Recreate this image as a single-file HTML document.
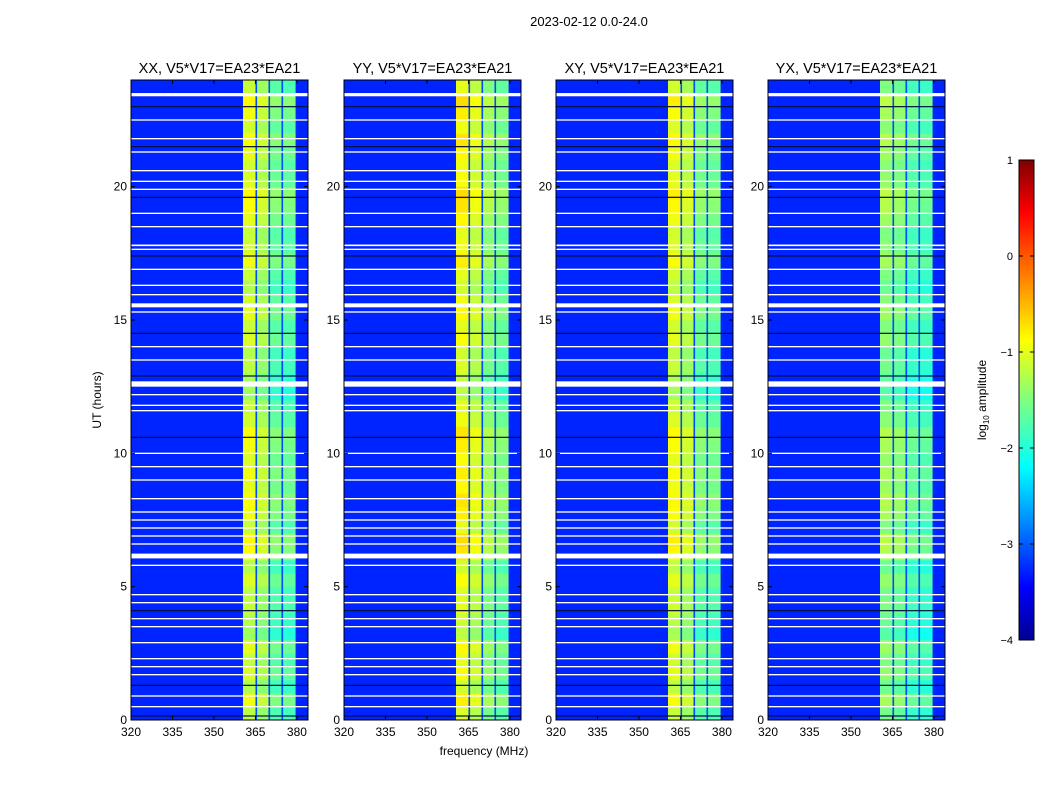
<!DOCTYPE html>
<html><head><meta charset="utf-8"><style>
body{margin:0;background:#fff;font-family:"Liberation Sans",sans-serif}
svg text{font-family:"Liberation Sans",sans-serif}
</style></head><body>
<svg id="fig" width="1050" height="800" xmlns="http://www.w3.org/2000/svg">
<text x="589" y="26" font-size="13" text-anchor="middle">2023-02-12 0.0-24.0</text>
<text x="484" y="755" font-size="12" text-anchor="middle">frequency (MHz)</text>
<text x="101" y="400" font-size="12" text-anchor="middle" transform="rotate(-90 101 400)">UT (hours)</text>
<defs><linearGradient id="jet" x1="0" y1="1" x2="0" y2="0">
<stop offset="0" stop-color="#00008f"/><stop offset="0.11" stop-color="#0000ff"/><stop offset="0.36" stop-color="#00ffff"/><stop offset="0.5" stop-color="#7fff7f"/><stop offset="0.625" stop-color="#ffff00"/><stop offset="0.89" stop-color="#ff0000"/><stop offset="1" stop-color="#7f0000"/></linearGradient></defs>
<rect x="1019" y="160" width="15" height="480" fill="url(#jet)" stroke="#000" stroke-width="1"/>
<text x="986" y="400" font-size="12" text-anchor="middle" transform="rotate(-90 986 400)">log<tspan font-size="8" dy="3">10</tspan><tspan dy="-3"> amplitude</tspan></text>
<g id="cbticks"></g>
<g id="panels"></g>
</svg>
<script>
const titles=["XX, V5*V17=EA23*EA21","YY, V5*V17=EA23*EA21","XY, V5*V17=EA23*EA21","YX, V5*V17=EA23*EA21"];
const freqTicks=[320,335,350,365,380];
const hourTicks=[0,5,10,15,20];
const cbTicks=[1,0,-1,-2,-3,-4];
const subbandEdges=[360.5,365.3,370,374.7,379.4];
const subbandLevels=[[-1.05,-1.25,-1.6,-1.65],[-0.9,-1.1,-1.4,-1.55],[-1.0,-1.2,-1.55,-1.6],[-1.4,-1.5,-1.7,-1.75]];
const backgroundLevel=-3.2;
const rowMod=[-0.15,0.1,-0.2,0.0,-0.1,0.05,-0.3,-0.2,-0.1,-0.15,0.0,-0.2,0.15,0.2,-0.1,0.1,0.15,0.05,0.1,0.0,0.1,0.15,-0.05,-0.1,-0.3,-0.25,-0.15,-0.2,0.0,-0.1,0.05,-0.05,-0.2,-0.1,0.1,-0.05,-0.1,0.05,0.15,0.2,0.0,-0.05,0.05,0.15,-0.05,0.1,0.2,-0.1];
const whiteGaps=[[23.45,0.12],[22.5,0.05],[21.8,0.05],[21.3,0.05],[20.6,0.05],[20.2,0.05],[19.9,0.05],[19.0,0.05],[18.5,0.05],[17.8,0.06],[17.65,0.05],[16.9,0.05],[16.3,0.05],[15.95,0.05],[15.55,0.15],[15.3,0.05],[14.0,0.05],[13.5,0.05],[12.6,0.2],[12.2,0.05],[11.8,0.05],[11.6,0.05],[10.0,0.05],[9.5,0.05],[9.0,0.05],[8.3,0.05],[7.8,0.05],[7.5,0.05],[7.2,0.05],[6.9,0.05],[6.6,0.05],[6.15,0.18],[5.8,0.05],[4.7,0.05],[4.4,0.05],[3.8,0.05],[3.5,0.05],[2.9,0.05],[2.3,0.05],[2.0,0.05],[1.7,0.05],[0.9,0.05],[0.5,0.05]];
const blackLines=[23.0,21.5,19.6,17.4,14.5,12.9,10.6,4.1,1.3,0.15];
const panelX=[131,344,556,768], pw=177, py=80, ph=640, fMin=320, fMax=384, tMax=24;
const NS="http://www.w3.org/2000/svg";
function jet(v){let t=(v+4)/5;t=Math.max(0,Math.min(1,t));
 const r=Math.max(0,Math.min(1,1.5-Math.abs(4*t-3))),g=Math.max(0,Math.min(1,1.5-Math.abs(4*t-2))),b=Math.max(0,Math.min(1,1.5-Math.abs(4*t-1)));
 return `rgb(${Math.round(r*255)},${Math.round(g*255)},${Math.round(b*255)})`;}
function el(tag,a,parent){const e=document.createElementNS(NS,tag);for(const k in a)e.setAttribute(k,a[k]);parent.appendChild(e);return e;}
const cb=document.getElementById('cbticks');
cbTicks.forEach(v=>{const y=640-(v+4)/5*480;
 const t=el('text',{x:1013,y:y+4,'font-size':11,'text-anchor':'end'},cb);t.textContent=v<0?'\u2212'+(-v):v;
 
 
 el('line',{x1:1019,x2:1023,y1:y,y2:y,stroke:'#000'},cb);el('line',{x1:1030,x2:1034,y1:y,y2:y,stroke:'#000'},cb);});
const root=document.getElementById('panels');
panelX.forEach((px,p)=>{
 const g=el('g',{},root);
 
 
 const xs=f=>px+(f-fMin)/(fMax-fMin)*pw, ys=h=>py+ph-h/tMax*ph;
 const bg=el('rect',{x:px,y:py,width:pw,height:ph,fill:jet(backgroundLevel)},g);
 
 
 const nr=rowMod.length, dh=tMax/nr;
 for(let s=0;s<4;s++){for(let r=0;r<nr;r++){
  const c=el('rect',{x:xs(subbandEdges[s]),y:ys((r+1)*dh),width:xs(subbandEdges[s+1])-xs(subbandEdges[s])+0.3,height:ph/nr+0.3,fill:jet(subbandLevels[p][s]+rowMod[r])},g);
  
  }}
 for(let s=1;s<4;s++){const l=el('rect',{x:xs(subbandEdges[s])-0.8,y:py,width:1.6,height:ph,fill:jet(-3.0)},g);
  
  }
 blackLines.forEach(h=>{const l=el('rect',{x:px,y:ys(h)-0.6,width:pw,height:1.2,fill:'#001040'},g);
  
  });
 whiteGaps.forEach(([h,w])=>{const l=el('rect',{x:px,y:ys(h+w/2),width:pw,height:Math.max(1.3,w/tMax*ph),fill:'#fff'},g);
  
  });
 const fr=el('rect',{x:px,y:py,width:pw,height:ph,fill:'none',stroke:'#000'},g);
 
 
 const tt=el('text',{x:px+pw/2,y:73,'font-size':14.5,'text-anchor':'middle'},g);tt.textContent=titles[p];
 
 
 freqTicks.forEach(f=>{const x=xs(f);el('line',{x1:x,x2:x,y1:py+ph,y2:py+ph-4,stroke:'#000'},g);el('line',{x1:x,x2:x,y1:py,y2:py+4,stroke:'#000'},g);
  const t=el('text',{x:x,y:py+ph+16,'font-size':12,'text-anchor':'middle'},g);t.textContent=f;
  
  });
 hourTicks.forEach(h=>{const y=ys(h);el('line',{x1:px,x2:px+4,y1:y,y2:y,stroke:'#000'},g);el('line',{x1:px+pw,x2:px+pw-4,y1:y,y2:y,stroke:'#000'},g);
  const t=el('text',{x:px-4,y:y+4,'font-size':12,'text-anchor':'end'},g);t.textContent=h;
  
  });
});
</script>
</body></html>
